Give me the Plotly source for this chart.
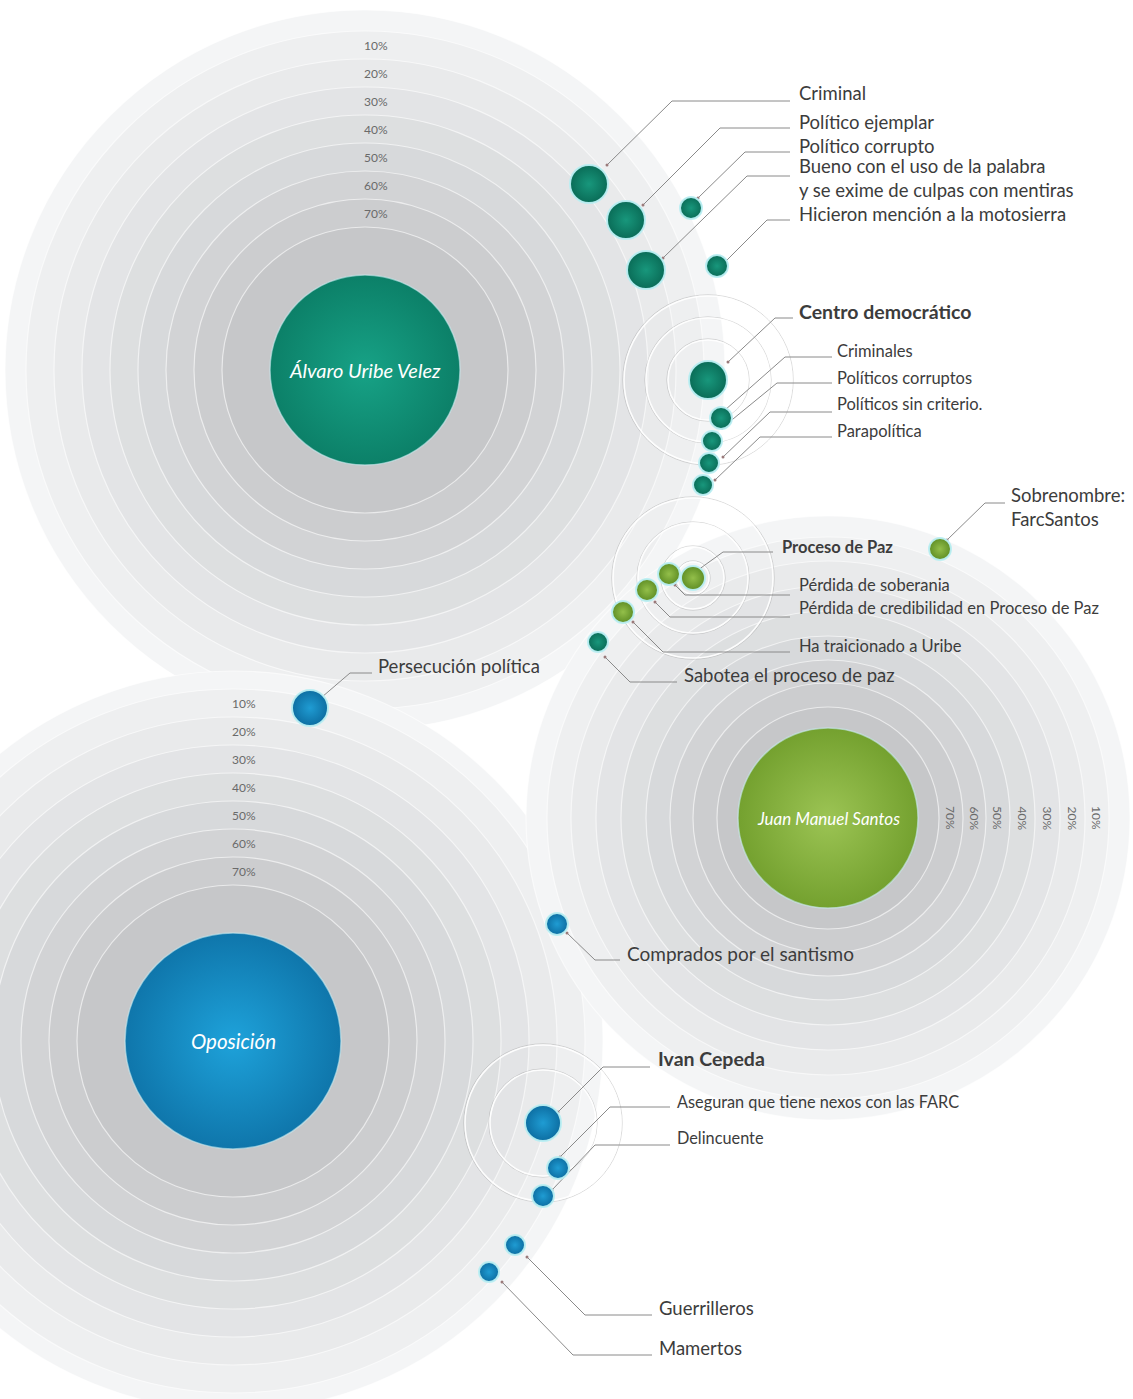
import plotly.graph_objects as go

W, H = 1133, 1399

# ---------------- main groups (background ring systems) ----------------
group_names = ["<i>Álvaro Uribe Velez</i>", "<i>Juan Manuel Santos</i>", "<i>Oposición</i>"]
group_cx = [365, 828, 233]
group_cy = [370, 818, 1041]
group_bubble_r = [95, 90, 108]
group_label_size = [20, 17, 20.5]
group_ring_r = [
    [360, 339, 311, 283, 255, 227, 199, 171, 143],
    [302, 281, 257, 232, 207, 182, 158, 135, 111],
    [370, 352, 324, 296, 268, 240, 212, 184, 156],
]
pct_labels = ["10%", "20%", "30%", "40%", "50%", "60%", "70%"]
group_edge = ["#0c8068", "#74a12f", "#0f76ab"]
group_core = ["#17a286", "#9cc454", "#1ea2da"]
term_edge = ["#0a6c57", "#5f8e25", "#0d6ea2"]
term_core = ["#18977c", "#93bf4a", "#1f9cd3"]

# ring shading, outermost -> innermost
ring_fill = ["#f4f5f6", "#eeeff0", "#e9eaeb", "#e3e4e6", "#dddfe0",
             "#d7d9db", "#d2d3d5", "#cccdcf", "#c6c7c9"]

# ---------------- small concentric outline systems ----------------
halo_cx = [708, 693, 543]
halo_cy = [380, 578, 1123]
halo_r = [[40, 62, 84], [16, 31, 55, 80], [53, 78]]

# ---------------- term bubbles ----------------
term_labels = [
    "Criminal", "Político ejemplar", "Político corrupto",
    "Bueno con el uso de la palabra<br>y se exime de culpas con mentiras",
    "Hicieron mención a la motosierra",
    "<b>Centro democrático</b>", "Criminales", "Políticos corruptos",
    "Políticos sin criterio.", "Parapolítica",
    "Sobrenombre:<br>FarcSantos", "<b>Proceso de Paz</b>", "Pérdida de soberania",
    "Pérdida de credibilidad en Proceso de Paz", "Ha traicionado a Uribe",
    "Sabotea el proceso de paz", "Persecución política",
    "Comprados por el santismo", "<b>Ivan Cepeda</b>",
    "Aseguran que tiene nexos con las FARC", "Delincuente",
    "Guerrilleros", "Mamertos",
]
term_group = [0, 0, 0, 0, 0,
              0, 0, 0, 0, 0,
              1, 1, 1, 1, 1,
              0, 2,
              2, 2, 2, 2, 2, 2]
term_x = [589, 626, 691, 646, 717,
          708, 721, 712, 709, 703,
          940, 693, 669, 647, 623,
          598, 310,
          557, 543, 558, 543, 515, 489]
term_y = [184, 220, 208, 270, 266,
          380, 418, 441, 463, 485,
          549, 578, 574, 590, 612,
          642, 708,
          924, 1123, 1168, 1196, 1245, 1272]
term_d = [38, 38, 22, 38, 22,
          38, 22, 20, 20, 20,
          22, 24, 22, 22, 22,
          20, 36,
          22, 36, 22, 22, 20, 20]

# label anchor (left) positions and font sizes
label_x = [797, 797, 797, 797, 797,
           797, 835, 835, 835, 835,
           1009, 780, 797, 797, 797,
           682, 376,
           625, 656, 675, 675, 657, 657]
label_y = [93, 122, 146, 178, 214,
           311, 351, 378, 404, 431,
           507, 547, 585, 608, 646,
           675, 666,
           953, 1058, 1101, 1137, 1308, 1348]
label_size = [18.5, 18.5, 18.5, 18.5, 18.5,
              19.5, 16.5, 16.5, 16.5, 16.5,
              18.5, 16.5, 16.5, 16.5, 16.5,
              18.5, 18.5,
              19, 19.5, 16.3, 16.3, 18.5, 18.5]

# leader lines: start (near bubble) -> elbow -> end (at label)
lead_x0 = [607, 643, 698, 663, 725,
           728, 725, 722, 723, 715,
           947, 698, 675, 655, 633,
           605, 322,
           567, 558, 560, 552, 527, 502]
lead_y0 = [165, 205, 198, 258, 262,
           362, 410, 428, 457, 480,
           540, 570, 585, 602, 622,
           657, 697,
           933, 1112, 1157, 1190, 1257, 1282]
lead_x1 = [672, 720, 745, 747, 767,
           775, 785, 777, 770, 760,
           985, 723, 685, 670, 663,
           630, 350,
           595, 603, 610, 595, 585, 573]
lead_y1 = [101, 128, 152, 176, 220,
           318, 357, 383, 412, 437,
           503, 552, 595, 617, 652,
           682, 673,
           960, 1067, 1107, 1145, 1315, 1355]
lead_x2 = [790, 790, 790, 790, 790,
           793, 832, 832, 832, 832,
           1005, 773, 790, 790, 790,
           677, 372,
           620, 650, 670, 670, 652, 652]

fig = go.Figure()
shapes = []

# background rings (Uribe, Oposición, then Santos on top)
for g in [0, 2, 1]:
    cx, cy = group_cx[g], group_cy[g]
    for k, r in enumerate(group_ring_r[g]):
        shapes.append(dict(type="circle", xref="x", yref="y", layer="below",
                           x0=cx - r, x1=cx + r, y0=cy - r, y1=cy + r,
                           fillcolor=ring_fill[k],
                           line=dict(color="rgba(255,255,255,0.6)", width=1.2)))

# halo outlines
for cx, cy, rs in zip(halo_cx, halo_cy, halo_r):
    for r in rs:
        shapes.append(dict(type="circle", xref="x", yref="y", layer="below",
                           x0=cx - r - 1.2, x1=cx + r + 1.2, y0=cy - r - 1.2, y1=cy + r + 1.2,
                           line=dict(color="rgba(150,150,150,0.45)", width=0.8)))
        shapes.append(dict(type="circle", xref="x", yref="y", layer="below",
                           x0=cx - r, x1=cx + r, y0=cy - r, y1=cy + r,
                           line=dict(color="rgba(255,255,255,0.9)", width=1.6)))

# leader lines
for i in range(len(term_labels)):
    fig.add_trace(go.Scatter(
        x=[lead_x0[i], lead_x1[i], lead_x2[i]],
        y=[lead_y0[i], lead_y1[i], lead_y1[i]],
        mode="lines", line=dict(color="#8a8a8a", width=1),
        hoverinfo="skip", showlegend=False))
fig.add_trace(go.Scatter(x=lead_x0, y=lead_y0, mode="markers",
                         marker=dict(size=3, color="#9a7a7a"),
                         hoverinfo="skip", showlegend=False))

# main bubbles
for g in range(3):
    fig.add_trace(go.Scatter(
        x=[group_cx[g]], y=[group_cy[g]], mode="markers",
        marker=dict(size=2 * group_bubble_r[g], color=group_edge[g], opacity=1,
                    gradient=dict(type="radial", color=group_core[g]),
                    line=dict(color="rgba(200,235,240,0.6)", width=1.5)),
        hoverinfo="skip", showlegend=False))

# term bubbles
for g in range(3):
    idx = [i for i in range(len(term_labels)) if term_group[i] == g]
    fig.add_trace(go.Scatter(
        x=[term_x[i] for i in idx], y=[term_y[i] for i in idx], mode="markers",
        marker=dict(size=[term_d[i] for i in idx], color=term_edge[g], opacity=1,
                    gradient=dict(type="radial", color=term_core[g]),
                    line=dict(color="rgba(185,238,242,0.95)", width=2)),
        hoverinfo="skip", showlegend=False))

annotations = []
FONT = "Lato, Open Sans, sans-serif"
# main group labels
for g in range(3):
    annotations.append(dict(x=group_cx[g], y=group_cy[g], xref="x", yref="y",
                            text=group_names[g], showarrow=False,
                            font=dict(family=FONT, size=group_label_size[g], color="white")))

# percent labels
for g in range(3):
    cx, cy = group_cx[g], group_cy[g]
    rs = group_ring_r[g]
    for k, lab in enumerate(pct_labels):
        mid = (rs[k + 1] + rs[k + 2]) / 2
        if g == 1:
            annotations.append(dict(x=cx + mid, y=cy, xref="x", yref="y", text=lab,
                                    textangle=90, showarrow=False,
                                    font=dict(family=FONT, size=12, color="#6a6a6a")))
        else:
            annotations.append(dict(x=cx + 11, y=cy - mid, xref="x", yref="y", text=lab,
                                    showarrow=False,
                                    font=dict(family=FONT, size=12, color="#6a6a6a")))

# term labels
for i, lab in enumerate(term_labels):
    annotations.append(dict(x=label_x[i], y=label_y[i], xref="x", yref="y", text=lab,
                            showarrow=False, xanchor="left", yanchor="middle", align="left",
                            font=dict(family=FONT, size=label_size[i], color="#3c3c3c")))

fig.update_layout(
    width=W, height=H, margin=dict(l=0, r=0, t=0, b=0),
    paper_bgcolor="white", plot_bgcolor="white",
    xaxis=dict(range=[0, W], visible=False, fixedrange=True),
    yaxis=dict(range=[H, 0], visible=False, fixedrange=True),
    shapes=shapes, annotations=annotations, showlegend=False,
)

fig.write_html("out.html", config={"displayModeBar": False},
               post_script="document.body.style.margin='0';document.body.style.overflow='hidden';")
